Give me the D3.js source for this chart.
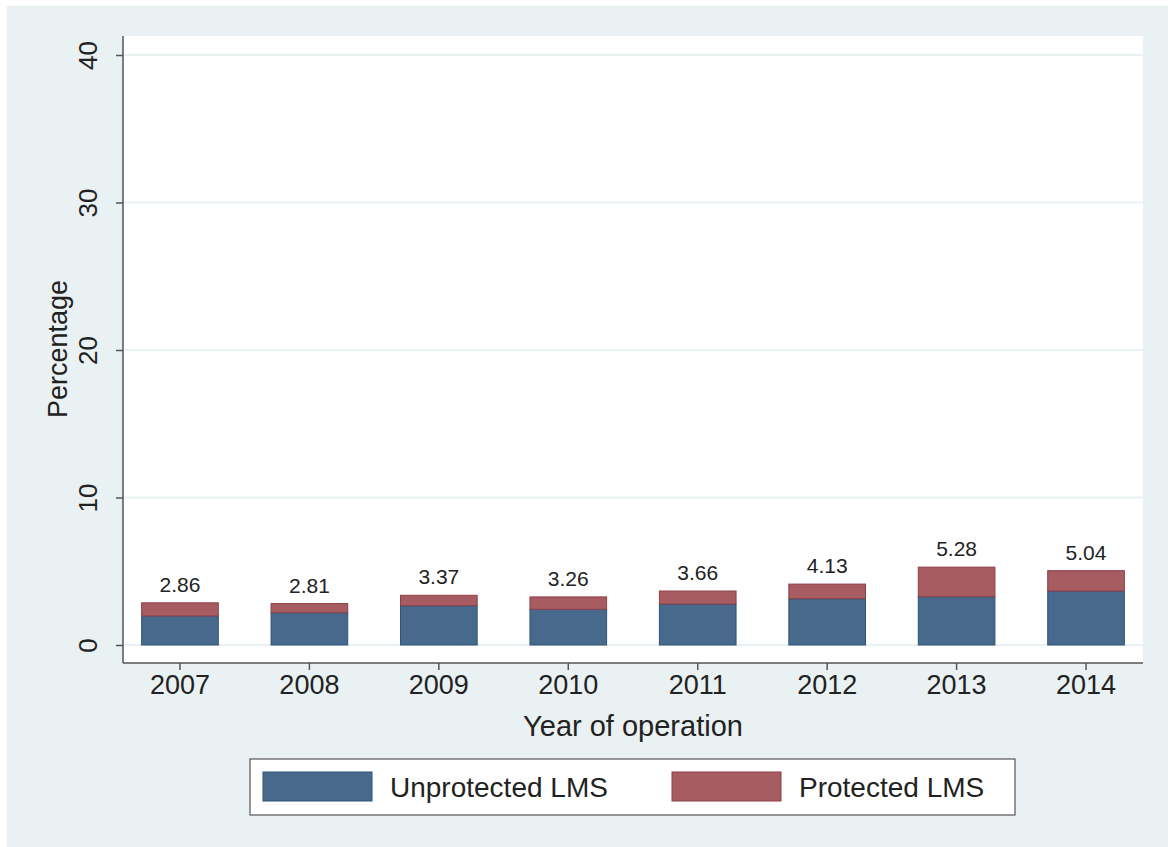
<!DOCTYPE html>
<html>
<head>
<meta charset="utf-8">
<script src="https://cdn.jsdelivr.net/npm/d3@7"></script>
<style>
  body { margin: 0; background: #fff; }
  text { font-family: "Liberation Sans", Arial, sans-serif; fill: #222; }
</style>
</head>
<body>
<script>
var years = ["2007", "2008", "2009", "2010", "2011", "2012", "2013", "2014"];
var unprotected = [1.97, 2.19, 2.67, 2.42, 2.78, 3.14, 3.28, 3.66];
var totals = [2.86, 2.81, 3.37, 3.26, 3.66, 4.13, 5.28, 5.04];
var yTicks = [0, 10, 20, 30, 40];
var seriesNames = ["Unprotected LMS", "Protected LMS"];

var width = 1168, height = 847;
var plot = {left: 123, right: 1143, top: 36, bottom: 663};

var fill = {u: "#476a8c", p: "#a65c61"},
    edge = {u: "#2e5576", p: "#8f3f48"};

var svg = d3.select("body").append("svg")
  .attr("width", width)
  .attr("height", height);

// outer background
svg.append("rect")
  .attr("x", 7).attr("y", 6)
  .attr("width", width - 7).attr("height", height - 6)
  .attr("fill", "#eaf1f3");

// plot region
svg.append("rect")
  .attr("x", plot.left).attr("y", plot.top)
  .attr("width", plot.right - plot.left)
  .attr("height", plot.bottom - plot.top)
  .attr("fill", "#fff");

var x = d3.scaleBand()
  .domain(years)
  .range([plot.left, plot.right])
  .paddingInner(0.4)
  .paddingOuter(0.14);

var y = d3.scaleLinear()
  .domain([0, 40])
  .range([645, 55]);

// grid
svg.append("g").selectAll("line")
  .data(yTicks)
  .enter().append("line")
  .attr("x1", plot.left).attr("x2", plot.right)
  .attr("y1", d => y(d)).attr("y2", d => y(d))
  .attr("stroke", "#eaf1f3")
  .attr("stroke-width", 2);

var rows = years.map(function(yr, i) {
  return {year: yr, u: unprotected[i], p: totals[i] - unprotected[i], t: totals[i]};
});

var bars = svg.append("g");

bars.selectAll("rect.u")
  .data(rows)
  .enter().append("rect")
  .attr("class", "u")
  .attr("x", d => x(d.year) + 0.5)
  .attr("width", x.bandwidth() - 1)
  .attr("y", d => y(d.u))
  .attr("height", d => y(0) - y(d.u))
  .attr("fill", fill.u)
  .attr("stroke", edge.u)
  .attr("stroke-width", 1);

bars.selectAll("rect.p")
  .data(rows)
  .enter().append("rect")
  .attr("class", "p")
  .attr("x", d => x(d.year) + 0.5)
  .attr("width", x.bandwidth() - 1)
  .attr("y", d => y(d.t))
  .attr("height", d => y(d.u) - y(d.t))
  .attr("fill", fill.p)
  .attr("stroke", edge.p)
  .attr("stroke-width", 1);

bars.selectAll("text")
  .data(rows)
  .enter().append("text")
  .attr("x", d => x(d.year) + x.bandwidth() / 2)
  .attr("y", d => y(d.t) - 11)
  .attr("text-anchor", "middle")
  .style("font-size", "21px")
  .text(d => d.t.toFixed(2));

// y axis
var yAxis = svg.append("g")
  .attr("transform", "translate(" + plot.left + ",0)")
  .call(d3.axisLeft(y).tickValues(yTicks).tickSize(7).tickPadding(8));
yAxis.select(".domain").attr("d", "M0," + plot.top + "V" + plot.bottom).attr("stroke", "#555").attr("stroke-width", 1.5);
yAxis.selectAll(".tick line").attr("stroke", "#555").attr("stroke-width", 1.5);
yAxis.selectAll(".tick text")
  .attr("transform", "rotate(-90)")
  .attr("x", 0).attr("y", -35)
  .attr("dy", "0.35em")
  .attr("text-anchor", "middle")
  .style("font-size", "26px")
  .style("font-family", "Liberation Sans, Arial, sans-serif")
  .attr("fill", "#222");

// x axis
var xAxis = svg.append("g")
  .attr("transform", "translate(0," + plot.bottom + ")")
  .call(d3.axisBottom(x).tickSize(7).tickPadding(5));
xAxis.select(".domain").attr("d", "M" + plot.left + ",0H" + plot.right).attr("stroke", "#555").attr("stroke-width", 1.5);
xAxis.selectAll(".tick line").attr("stroke", "#555").attr("stroke-width", 1.5);
xAxis.selectAll(".tick text")
  .style("font-size", "27px")
  .style("font-family", "Liberation Sans, Arial, sans-serif")
  .attr("fill", "#222");

svg.append("text")
  .attr("x", (plot.left + plot.right) / 2)
  .attr("y", 736)
  .attr("text-anchor", "middle")
  .style("font-size", "29px")
  .text("Year of operation");

svg.append("text")
  .attr("transform", "translate(67," + (y(20) - 1) + ") rotate(-90)")
  .attr("text-anchor", "middle")
  .style("font-size", "27px")
  .text("Percentage");

// legend
var legend = svg.append("g");
legend.append("rect")
  .attr("x", 250).attr("y", 759)
  .attr("width", 765).attr("height", 56)
  .attr("fill", "#fff")
  .attr("stroke", "#555")
  .attr("stroke-width", 1.2);

var legendX = [263, 672];
legend.selectAll("rect.sw")
  .data(seriesNames)
  .enter().append("rect")
  .attr("class", "sw")
  .attr("x", (d, i) => legendX[i])
  .attr("y", 772)
  .attr("width", 109)
  .attr("height", 29)
  .attr("fill", (d, i) => i ? fill.p : fill.u)
  .attr("stroke", (d, i) => i ? edge.p : edge.u);

legend.selectAll("text")
  .data(seriesNames)
  .enter().append("text")
  .attr("x", (d, i) => legendX[i] + 127)
  .attr("y", 787)
  .attr("dy", "0.35em")
  .style("font-size", "28px")
  .text(d => d);
</script>
</body>
</html>
